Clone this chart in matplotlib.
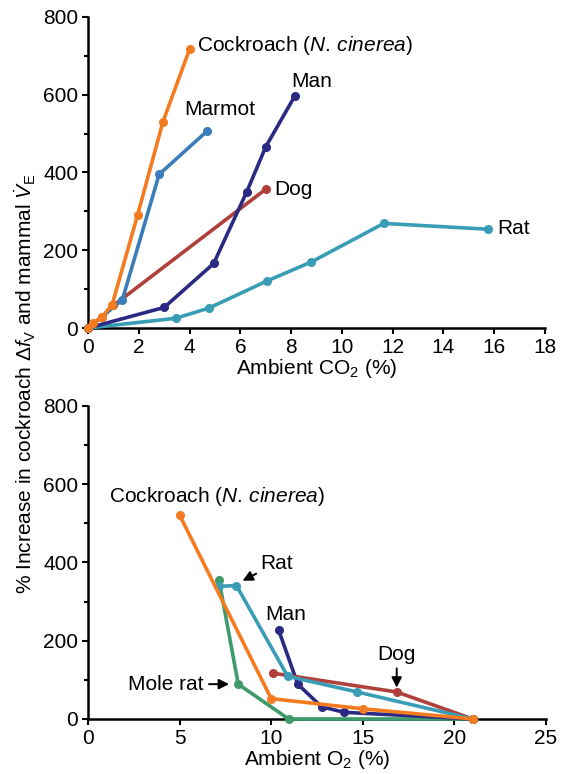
import matplotlib
matplotlib.use("Agg")
import matplotlib.pyplot as plt
from matplotlib.ticker import MultipleLocator

plt.rcParams['font.family'] = ['Liberation Sans', 'DejaVu Sans']
plt.rcParams['mathtext.fontset'] = 'custom'
plt.rcParams['mathtext.rm'] = 'Liberation Sans'
plt.rcParams['mathtext.it'] = 'Liberation Sans:italic'
plt.rcParams['mathtext.bf'] = 'Liberation Sans:bold'

# colours per species
c_roach = '#F47B20'
c_marmot = '#3A7DB8'
c_dog = '#B0403C'
c_man = '#2A2A82'
c_rat = '#3A9DB6'
c_mole = '#3E9A6A'

# ---- hypercapnia (CO2) ----
co2_roach_x = [0, 0.2, 0.55, 0.95, 1.95, 2.95, 4.0]
co2_roach_y = [0, 13, 28, 60, 290, 530, 717]
co2_marmot_x = [0, 1.35, 2.8, 4.7]
co2_marmot_y = [0, 72, 395, 507]
co2_dog_x = [0, 0.55, 1.0, 7.0]
co2_dog_y = [0, 28, 58, 357]
co2_man_x = [0, 3.0, 4.95, 6.25, 7.0, 8.15]
co2_man_y = [0, 53, 166, 350, 466, 597]
co2_rat_x = [0, 3.45, 4.75, 7.05, 8.8, 11.65, 15.75]
co2_rat_y = [0, 25, 51, 121, 170, 269, 254]

# ---- hypoxia (O2) ----
o2_roach_x = [5.0, 10.0, 15.0, 21.0]
o2_roach_y = [521, 52, 26, 0]
o2_mole_x = [7.15, 8.2, 10.95, 21.0]
o2_mole_y = [355, 89, 0, 0]
o2_rat_x = [7.15, 8.1, 10.9, 14.7, 21.0]
o2_rat_y = [339, 341, 109, 69, 0]
o2_man_x = [10.4, 11.45, 12.75, 14.0, 21.0]
o2_man_y = [228, 89, 31, 17, 0]
o2_dog_x = [10.1, 16.85, 21.0]
o2_dog_y = [117, 69, 0]

fig = plt.figure(figsize=(5.69, 7.74), dpi=100)
ax1 = fig.add_axes([0.1547, 0.5762, 0.8032, 0.402])
ax2 = fig.add_axes([0.1547, 0.0711, 0.8049, 0.4044])

lw = 2.6
ms = 5.5


def line(ax, x, y, col):
    ax.plot(x, y, '-o', color=col, lw=lw, ms=ms, clip_on=False, zorder=3)


line(ax1, co2_rat_x, co2_rat_y, c_rat)
line(ax1, co2_dog_x, co2_dog_y, c_dog)
line(ax1, co2_man_x, co2_man_y, c_man)
line(ax1, co2_marmot_x, co2_marmot_y, c_marmot)
line(ax1, co2_roach_x, co2_roach_y, c_roach)

line(ax2, o2_mole_x, o2_mole_y, c_mole)
line(ax2, o2_man_x, o2_man_y, c_man)
line(ax2, o2_dog_x, o2_dog_y, c_dog)
line(ax2, o2_rat_x, o2_rat_y, c_rat)
line(ax2, o2_roach_x, o2_roach_y, c_roach)

fs = 15
species = 'Cockroach ($\\mathit{N.\\,cinerea}$)'
ax1.text(4.3, 727, species, fontsize=fs, va='center')
ax1.text(3.8, 563, 'Marmot', fontsize=fs, va='center')
ax1.text(8.0, 634, 'Man', fontsize=fs, va='center')
ax1.text(7.35, 357, 'Dog', fontsize=fs, va='center')
ax1.text(16.1, 257, 'Rat', fontsize=fs, va='center')

ax2.text(1.15, 568, species, fontsize=fs, va='center')
ax2.text(9.65, 266, 'Man', fontsize=fs, va='center')

arrow = dict(arrowstyle='-|>', color='black', lw=1.4, mutation_scale=15)
ax2.annotate('Rat', xy=(8.3, 350), xytext=(9.4, 398), fontsize=fs, va='center',
             arrowprops=dict(arrow, shrinkA=1, shrinkB=2))
ax2.annotate('Mole rat', xy=(7.85, 89), xytext=(6.3, 89), fontsize=fs,
             ha='right', va='center',
             arrowprops=dict(arrow, shrinkA=2, shrinkB=2))
ax2.annotate('Dog', xy=(16.85, 80), xytext=(16.85, 140), fontsize=fs,
             ha='center', va='bottom',
             arrowprops=dict(arrow, shrinkA=1, shrinkB=0))

for ax in (ax1, ax2):
    ax.set_ylim(0, 800)
    ax.spines['top'].set_visible(False)
    ax.spines['right'].set_visible(False)
    ax.spines['left'].set_linewidth(1.8)
    ax.spines['bottom'].set_linewidth(1.8)
    ax.yaxis.set_major_locator(MultipleLocator(200))
    ax.yaxis.set_minor_locator(MultipleLocator(100))
    ax.tick_params(labelsize=fs, width=1.5, length=4, direction='out', pad=3)
    ax.tick_params(which='minor', width=1.5, length=3)

ax1.set_xlim(0, 18)
ax1.xaxis.set_major_locator(MultipleLocator(2))
ax1.set_xlabel('Ambient CO$_2$ (%)', fontsize=fs, labelpad=0)

ax2.set_xlim(0, 25)
ax2.xaxis.set_major_locator(MultipleLocator(5))
ax2.set_xlabel('Ambient O$_2$ (%)', fontsize=fs, labelpad=0)

fig.text(0.044, 0.505,
         '% Increase in cockroach $\\mathit{\\Delta f}_\\mathrm{V}$ and mammal $\\dot{\\mathit{V}}_\\mathrm{E}$',
         rotation=90, fontsize=fs, ha='center', va='center')

fig.savefig('out.png', dpi=100)
